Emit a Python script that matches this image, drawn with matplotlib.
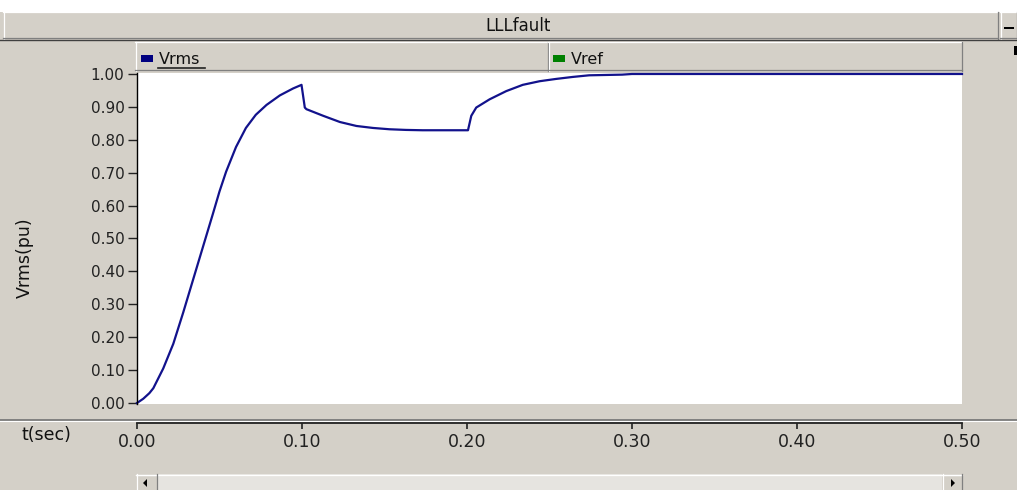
import matplotlib.pyplot as plt
from matplotlib.patches import Rectangle, Polygon
import numpy as np

# Vrms (t in seconds, V in pu)
t_sec = [0.0, 0.0038, 0.0075, 0.0099, 0.0159, 0.022, 0.028, 0.034, 0.040, 0.046,
         0.050, 0.054, 0.060, 0.066, 0.072, 0.0785, 0.0866, 0.0946, 0.0997, 0.1017,
         0.1027, 0.1128, 0.123, 0.133, 0.143, 0.153, 0.163, 0.173, 0.1875, 0.2006,
         0.2026, 0.2056, 0.2137, 0.2238, 0.2338, 0.244, 0.254, 0.264, 0.274, 0.294,
         0.30, 0.5]
vrms = [0.0, 0.013, 0.03, 0.045, 0.105, 0.18, 0.275, 0.375, 0.475, 0.575,
        0.643, 0.703, 0.778, 0.836, 0.876, 0.906, 0.935, 0.956, 0.967, 0.898,
        0.893, 0.873, 0.854, 0.842, 0.836, 0.832, 0.830, 0.829, 0.829, 0.829,
        0.873, 0.898, 0.923, 0.948, 0.967, 0.978, 0.985, 0.991, 0.996, 0.998,
        1.0, 1.0]
y_ticks = np.round(np.arange(0, 1.01, 0.1), 2)
x_ticks = np.round(np.arange(0, 0.51, 0.1), 2)
legend_names = ["Vrms", "Vref"]
legend_colors = ["#000080", "#008000"]

W, H = 1017, 490
gray = "#D4D0C8"
dark = "#808080"
navy = "#12128C"

plt.rcParams["font.family"] = ["DejaVu Sans"]
fig = plt.figure(figsize=(W / 100, H / 100), dpi=100, facecolor=gray)


def box(x0, y0, x1, y1):
    # pixel box (y down) -> figure fraction
    return [x0 / W, 1 - y1 / H, (x1 - x0) / W, (y1 - y0) / H]


bg = fig.add_axes([0, 0, 1, 1], zorder=0)
bg.set_xlim(0, W)
bg.set_ylim(H, 0)
bg.axis("off")


def bevel(x0, y0, x1, y1, face=gray):
    bg.add_patch(Rectangle((x0, y0), x1 - x0, y1 - y0, facecolor=face, edgecolor="none"))
    bg.plot([x0, x1], [y0 + 0.5, y0 + 0.5], color="white", lw=0.9)
    bg.plot([x0 + 0.5, x0 + 0.5], [y0, y1], color="white", lw=0.9)
    bg.plot([x0, x1], [y1 - 0.5, y1 - 0.5], color=dark, lw=0.9)
    bg.plot([x1 - 0.5, x1 - 0.5], [y0, y1], color=dark, lw=0.9)


# title bar
bg.add_patch(Rectangle((0, 0), W, 12, facecolor="white", edgecolor="none"))
bevel(3, 12, 998, 39)
bevel(1000, 12, 1017, 39)
bg.add_patch(Rectangle((1004, 27), 10, 2, facecolor="black"))
bg.text(518, 26, "LLLfault", ha="center", va="center", fontsize=12, color="#111111")
bg.plot([0, W], [40, 40], color="#404040", lw=1)

# legend bar
bevel(135, 42, 548, 71)
bevel(548, 42, 962, 71)
lx = [141, 553]
for x, name, col in zip(lx, legend_names, legend_colors):
    bg.add_patch(Rectangle((x, 55), 12, 7, facecolor=col, edgecolor="none"))
    bg.text(x + 18, 59, name, ha="left", va="center", fontsize=11.5, color="#111111")
bg.plot([158, 205], [68.5, 68.5], color="#222222", lw=1.2)
bg.add_patch(Rectangle((1014, 46), 3, 9, facecolor="black"))

# separator and scroll bar
bg.plot([0, W], [419.5, 419.5], color=dark, lw=1.4)
bg.plot([0, W], [421.2, 421.2], color="white", lw=0.8)
bg.add_patch(Rectangle((136, 474), 826, 16, facecolor="#E6E4E0", edgecolor="none"))
bg.plot([136, 962], [474.5, 474.5], color="white", lw=0.9)
bevel(136, 474, 157, 491)
bevel(942, 474, 962, 491)
bg.add_patch(Polygon([(143, 483), (147, 479), (147, 487)], facecolor="black"))
bg.add_patch(Polygon([(955, 483), (951, 479), (951, 487)], facecolor="black"))

bg.text(25, 258, "Vrms(pu)", rotation=90, ha="center", va="center", fontsize=12.5, color="#111111")
bg.text(21, 435, "t(sec)", ha="left", va="center", fontsize=12.5, color="#111111")

# plot area
ax = fig.add_axes(box(137, 73, 962, 404), zorder=2)
ax.set_facecolor("white")
ax.plot(t_sec, vrms, color=navy, lw=1.6, clip_on=False)
ax.set_xlim(0, 0.5)
ax.set_ylim(-0.003, 1.003)
ax.set_yticks(y_ticks)
ax.set_yticklabels([f"{v:.2f}" for v in y_ticks])
ax.set_xticks([])
ax.tick_params(axis="y", length=6.5, width=1, pad=2.5, labelsize=11, colors="#222222")
for s in ["top", "right", "bottom"]:
    ax.spines[s].set_visible(False)
ax.spines["left"].set_color("black")
ax.spines["left"].set_linewidth(1)

# separate time axis strip
axx = fig.add_axes(box(137, 421, 962, 423), zorder=2)
axx.patch.set_alpha(0)
axx.set_xlim(0, 0.5)
axx.set_xticks(x_ticks)
axx.set_xticklabels([f"{v:.2f}" for v in x_ticks])
axx.set_yticks([])
axx.tick_params(axis="x", length=4, width=1.2, pad=3.5, labelsize=12.5, colors="#222222")
for s in ["top", "right", "left"]:
    axx.spines[s].set_visible(False)
axx.spines["bottom"].set_color("#222222")
axx.spines["bottom"].set_linewidth(1.3)

fig.savefig("out.png", dpi=100, facecolor=gray)
